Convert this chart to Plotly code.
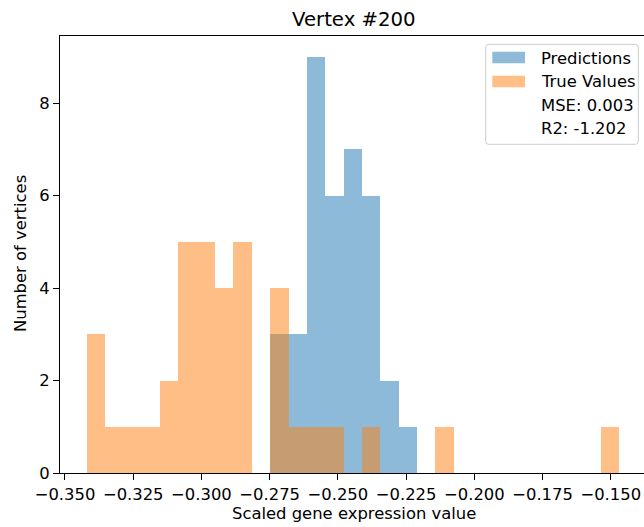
import numpy as np
import plotly.graph_objects as go

# Histogram bins shared by both series (29 equal-width bins)
bin_lo = -0.3421
bin_hi = -0.14696
n_bins = 29

pred_counts = [0, 0, 0, 0, 0, 0, 0, 0, 0, 0,
               3, 3, 9, 6, 7, 6, 2, 1,
               0, 0, 0, 0, 0, 0, 0, 0, 0, 0, 0]
true_counts = [3, 1, 1, 1, 2, 5, 5, 4, 5, 0,
               4, 1, 1, 1, 0, 1, 0, 0, 0, 1,
               0, 0, 0, 0, 0, 0, 0, 0, 1]

series_names = ["Predictions", "True Values"]
stats_lines = ["MSE: 0.003", "R2: -1.202"]
title_text = "Vertex #200"
x_title = "Scaled gene expression value"
y_title = "Number of vertices"

x_ticks = [-0.350, -0.325, -0.300, -0.275, -0.250, -0.225, -0.200, -0.175, -0.150]
y_ticks = [0, 2, 4, 6, 8]

BLUE = "#1f77b4"
ORANGE = "#ff7f0e"
FONT = "DejaVu Sans"
FS = 16.4      # tick / label / legend text
FS_TITLE = 19.7

edges = np.linspace(bin_lo, bin_hi, n_bins + 1)
centers = (edges[:-1] + edges[1:]) / 2
width = edges[1] - edges[0]

# figure geometry (pixels)
W, H = 644, 527
L, R, T, B = 60, 0, 36, 54
pw, ph = W - L - R, H - T - B
x_left = -0.35183
px_per_unit = 2729.0
x_range = [x_left, x_left + pw / px_per_unit]
y_range = [0, 9.45]


def px(x):
    return (x - L) / pw


def py(y):
    return (H - B - y) / ph


fig = go.Figure()
fig.add_trace(go.Bar(x=centers, y=pred_counts, width=width, name=series_names[0],
                     marker=dict(color=BLUE, line=dict(width=0)), opacity=0.5,
                     showlegend=False))
fig.add_trace(go.Bar(x=centers, y=true_counts, width=width, name=series_names[1],
                     marker=dict(color=ORANGE, line=dict(width=0)), opacity=0.5,
                     showlegend=False))

axis_common = dict(showgrid=False, zeroline=False, showline=True, linecolor="black",
                   linewidth=1.2, ticks="outside", ticklen=6, tickwidth=1.2,
                   tickcolor="black", tickfont=dict(family=FONT, size=FS, color="black"))
fig.update_xaxes(range=x_range, tickvals=x_ticks, tickformat=".3f", mirror=True,
                 **axis_common)
fig.update_yaxes(range=y_range, tickvals=y_ticks, mirror=False, **axis_common)

shapes = []
annotations = []

# legend frame with rounded corners
x0, x1 = px(485.7), px(638.3)
y0, y1 = py(144.3), py(44.3)
rx, ry = 3 / pw, 3 / ph
path = (f"M {x0+rx},{y0} L {x1-rx},{y0} Q {x1},{y0} {x1},{y0+ry} "
        f"L {x1},{y1-ry} Q {x1},{y1} {x1-rx},{y1} L {x0+rx},{y1} "
        f"Q {x0},{y1} {x0},{y1-ry} L {x0},{y0+ry} Q {x0},{y0} {x0+rx},{y0} Z")
shapes.append(dict(type="path", xref="paper", yref="paper", path=path,
                   fillcolor="rgba(255,255,255,0.8)", line=dict(color="#cccccc", width=1)))

# legend patches
for (top, bot), col in zip([(51.7, 63.3), (75.7, 87.3)], [BLUE, ORANGE]):
    shapes.append(dict(type="rect", xref="paper", yref="paper",
                       x0=px(492.3), x1=px(525), y0=py(bot), y1=py(top),
                       fillcolor=col, opacity=0.5, line=dict(width=0)))

legend_lines = series_names + stats_lines
for text, yc in zip(legend_lines, [58.3, 81.7, 105, 128.3]):
    annotations.append(dict(text=text, xref="paper", yref="paper", x=px(538.5), y=py(yc),
                            xanchor="left", yanchor="middle", showarrow=False,
                            font=dict(family=FONT, size=FS, color="black")))

# title and axis labels
annotations.append(dict(text=title_text, xref="paper", yref="paper", x=px(354), y=py(20),
                        xanchor="center", yanchor="middle", showarrow=False,
                        font=dict(family=FONT, size=FS_TITLE, color="black")))
annotations.append(dict(text=x_title, xref="paper", yref="paper", x=px(354), y=py(513),
                        xanchor="center", yanchor="middle", showarrow=False,
                        font=dict(family=FONT, size=FS, color="black")))
annotations.append(dict(text=y_title, xref="paper", yref="paper", x=px(21), y=py(254),
                        xanchor="center", yanchor="middle", showarrow=False, textangle=-90,
                        font=dict(family=FONT, size=FS, color="black")))

fig.update_layout(width=W, height=H, margin=dict(l=L, r=R, t=T, b=B),
                  barmode="overlay", bargap=0, plot_bgcolor="white", paper_bgcolor="white",
                  shapes=shapes, annotations=annotations, showlegend=False,
                  font=dict(family=FONT, color="black"))

fig.write_html("out.html")
